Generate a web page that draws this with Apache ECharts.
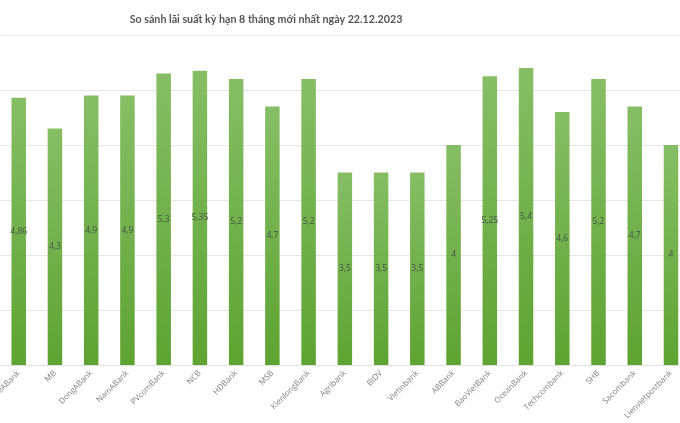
<!DOCTYPE html>
<html>
<head>
<meta charset="utf-8">
<script src="https://cdn.jsdelivr.net/npm/echarts@6/dist/echarts.min.js"></script>
<style>html,body{margin:0;padding:0;background:#fff;}#c{width:680px;height:423px;}</style>
</head>
<body>
<div id="c"></div>
<script>
var categories = ["SeABank","MB","DongABank","NamABank","PVcomBank","NCB","HDBank","MSB","KienlongBank","Agribank","BIDV","Vietinbank","ABBank","BaoVietBank","OceanBank","Techcombank","SHB","Sacombank","Lienvietpostbank"];
var rates = [4.86,4.3,4.9,4.9,5.3,5.35,5.2,4.7,5.2,3.5,3.5,3.5,4,5.25,5.4,4.6,5.2,4.7,4];
var titleText = "So sánh lãi suất kỳ hạn 8 tháng mới nhất ngày 22.12.2023";

var chart = echarts.init(document.getElementById('c'), null, {renderer:'canvas'});
chart.setOption({
  animation:false,
  backgroundColor:'#fff',
  title:{
    text:titleText,
    left:261, top:9, textAlign:'center',
    textStyle:{fontFamily:'Lato', fontWeight:'bold', fontSize:10.7, color:'#555555'}
  },
  grid:{left:0.6, top:35, width:688.5, height:330, containLabel:false, outerBoundsMode:'none'},
  xAxis:{
    type:'category', data:categories,
    axisLine:{show:true, lineStyle:{color:'#e0e0e0', width:1}},
    axisTick:{show:false},
    axisLabel:{rotate:45, interval:0, fontFamily:'Open Sans', fontSize:8, color:'#7f7f7f', margin:7}
  },
  yAxis:{
    type:'value', min:0, max:6, interval:1,
    axisLabel:{show:false}, axisLine:{show:false}, axisTick:{show:false},
    splitLine:{lineStyle:{color:'#e6e6e6', width:1}}
  },
  series:[{
    type:'bar', data:rates, barWidth:14.5,
    itemStyle:{color:new echarts.graphic.LinearGradient(0,0,0,1,[{offset:0,color:'#86be65'},{offset:1,color:'#5ea332'}])},
    label:{show:true, position:'inside', fontFamily:'Open Sans', fontSize:8.5, color:'#44544a',
      formatter:function(p){return String(p.value).replace('.',',');}}
  }]
});
</script>
</body>
</html>
